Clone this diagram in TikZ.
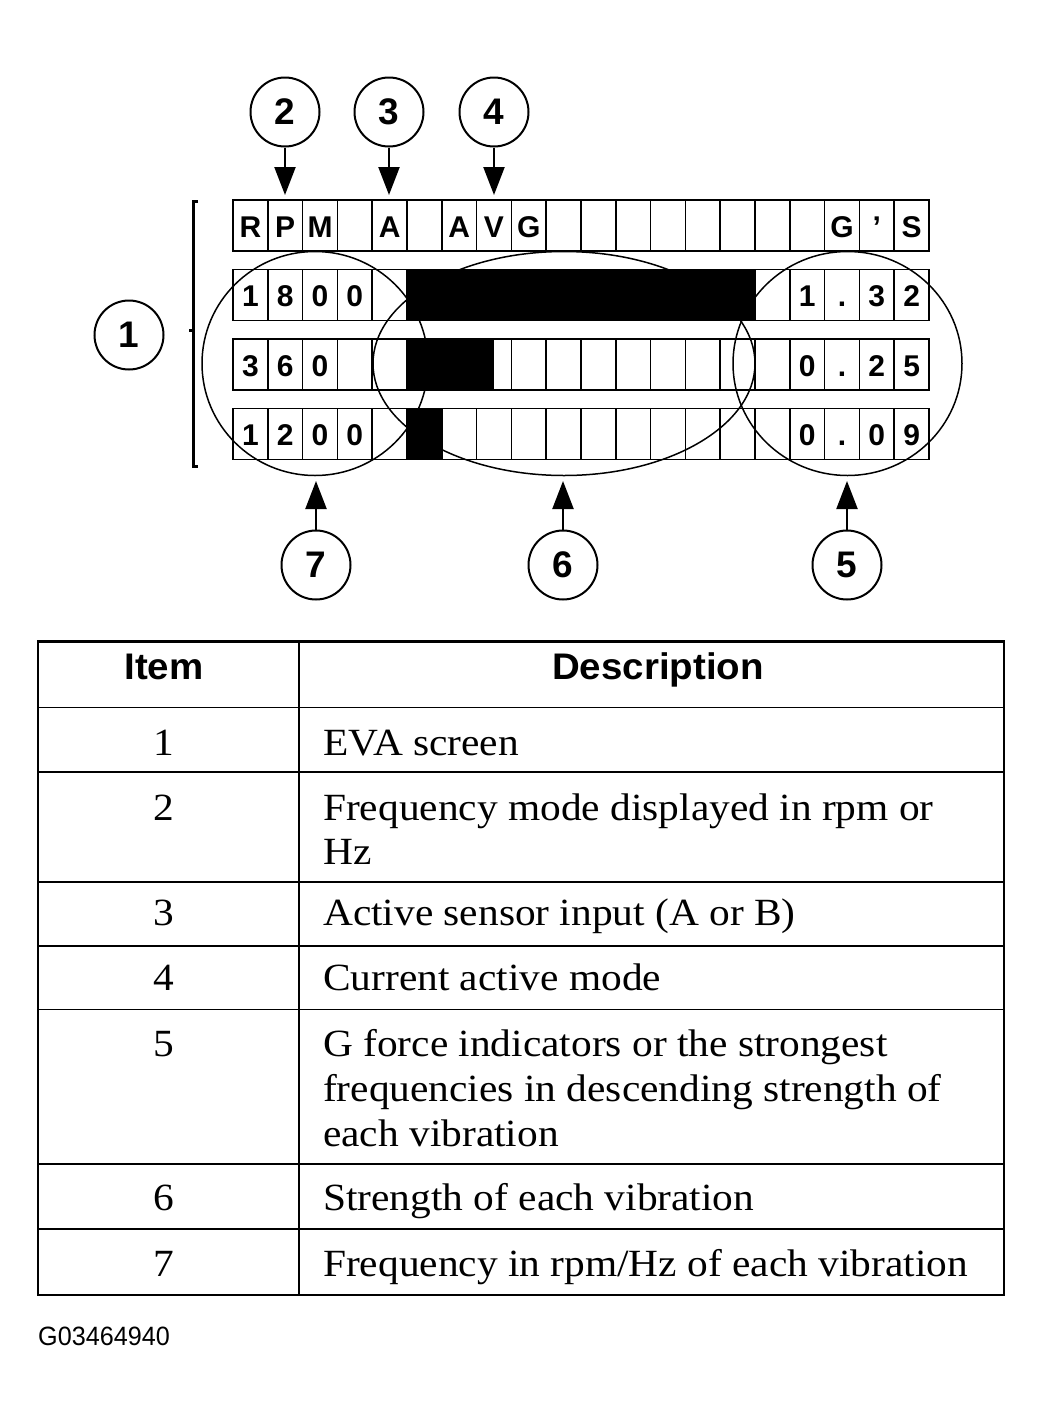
\documentclass[tikz,border=0pt]{standalone}
\usepackage{fontspec}
\setmainfont{Liberation Serif}
\setsansfont{Liberation Sans}
\newfontfamily\tabserif[FakeStretch=1.075]{Liberation Serif}
\newfontfamily\hdsans[FakeStretch=1.04]{Liberation Sans Bold}
\newfontfamily\gridsans{Liberation Sans Bold}
\newfontfamily\codesans[FakeStretch=0.95]{Liberation Sans}
\usetikzlibrary{arrows.meta}
\begin{document}
\begin{tikzpicture}[x=1pt,y=-1pt,
  callout/.style={circle,draw,line width=2pt,minimum size=69pt,inner sep=0pt,
    font=\fontsize{37}{37}\selectfont\gridsans},
  ptr/.style={-{Triangle[width=21pt,length=28pt]},line width=2.2pt},
  cell/.style={line width=1.5pt},
  blk/.style={fill=black},
  gtxt/.style={inner sep=0pt,anchor=base,font=\fontsize{30}{30}\selectfont\gridsans},
  ring/.style={line width=1.5pt},
  rowline/.style={line width=1.8pt},
  desc/.style={inner sep=0pt,anchor=base west,font=\fontsize{38.5}{45}\selectfont\tabserif},
  itm/.style={inner sep=0pt,anchor=base,font=\fontsize{38.5}{45}\selectfont\tabserif},
  hdr/.style={inner sep=0pt,anchor=base,font=\fontsize{37}{37}\selectfont\hdsans}]
\useasboundingbox (0,0) rectangle (1044,1417);

% ---------- grid ----------
\foreach \r in {0,...,3} {
  \pgfmathsetmacro\yt{200+69.5*\r}
  \draw[cell] (233,\yt) rectangle (929,\yt+51);
  \foreach \c in {1,...,19} \draw[cell] ({233+34.8*\c},\yt) -- ++(0,51);
}
\fill[blk] (407,269.5) rectangle (755,320.5);
\fill[blk] (407,339) rectangle (494,390);
\fill[blk] (407,408.5) rectangle (441.8,459.5);

\foreach \c/\t in {1/R,2/P,3/M,5/A,7/A,8/V,9/G,18/G,19/’,20/S}
  \node[gtxt] (ga\c) at ({233+34.8*(\c-0.5)},237) {\t};
\foreach \c/\t in {1/1,2/8,3/0,4/0,17/1,18/.,19/3,20/2}
  \node[gtxt] (gb\c) at ({233+34.8*(\c-0.5)},306.5) {\t};
\foreach \c/\t in {1/3,2/6,3/0,17/0,18/.,19/2,20/5}
  \node[gtxt] (gc\c) at ({233+34.8*(\c-0.5)},376) {\t};
\foreach \c/\t in {1/1,2/2,3/0,4/0,17/0,18/.,19/0,20/9}
  \node[gtxt] (gd\c) at ({233+34.8*(\c-0.5)},445.5) {\t};

% ---------- ellipses ----------
\draw[ring] (315,363.5) ellipse [x radius=113pt, y radius=112pt];
\draw[ring] (564,363.5) ellipse [x radius=191pt, y radius=112pt];
\draw[ring] (847.5,363.5) ellipse [x radius=114.5pt, y radius=112pt];

% ---------- bracket ----------
\draw[line width=3pt] (198,201) -- (193,201) -- (193,466.5) -- (198,466.5);
\draw[line width=3pt] (193,330) -- (189,330);

% ---------- callouts ----------
\node[callout] (c1) at (129,335) {1};
\node[callout] (c2) at (285,112) {2};
\node[callout] (c3) at (389,112) {3};
\node[callout] (c4) at (494,112) {4};
\node[callout] (c7) at (316,565) {7};
\node[callout] (c6) at (563,565) {6};
\node[callout] (c5) at (847,565) {5};

\coordinate (t2) at (285,195);
\coordinate (t3) at (389,195);
\coordinate (t4) at (494,195);
\coordinate (t7) at (316,481);
\coordinate (t6) at (563,481);
\coordinate (t5) at (847,481);
\draw[ptr] (c2.south) -- (t2);
\draw[ptr] (c3.south) -- (t3);
\draw[ptr] (c4.south) -- (t4);
\draw[ptr] (c7.north) -- (t7);
\draw[ptr] (c6.north) -- (t6);
\draw[ptr] (c5.north) -- (t5);

% ---------- table ----------
\foreach \y in {707.5,772,882,946,1009.5,1164,1229}
  \draw[rowline] (38,\y) -- (1004,\y);
\draw[rowline] (299,641.5) -- (299,1295);
\draw[line width=2.5pt] (38,641.5) rectangle (1004,1295);

\node[hdr] (hItem) at (164,679) {Item};
\node[hdr] (hDesc) at (658,679) {Description};

\node[itm] (i1) at (164,755) {1};
\node[desc] (d1) at (323,755) {EVA screen};
\node[itm] (i2) at (164,820) {2};
\node[desc] (d2a) at (323,820) {Frequency mode displayed in rpm or};
\node[desc] (d2b) at (323,864) {Hz};
\node[itm] (i3) at (164,925) {3};
\node[desc] (d3) at (323,925) {Active sensor input (A or B)};
\node[itm] (i4) at (164,990) {4};
\node[desc] (d4) at (323,990) {Current active mode};
\node[itm] (i5) at (164,1056) {5};
\node[desc] (d5a) at (323,1056) {G force indicators or the strongest};
\node[desc] (d5b) at (323,1101) {frequencies in descending strength of};
\node[desc] (d5c) at (323,1146) {each vibration};
\node[itm] (i6) at (164,1210) {6};
\node[desc] (d6) at (323,1210) {Strength of each vibration};
\node[itm] (i7) at (164,1276) {7};
\node[desc] (d7) at (323,1276) {Frequency in rpm/Hz of each vibration};

\node[inner sep=0pt,anchor=base west,font=\fontsize{26.5}{26}\selectfont\codesans] (code) at (38,1345) {G03464940};
\end{tikzpicture}
\end{document}
